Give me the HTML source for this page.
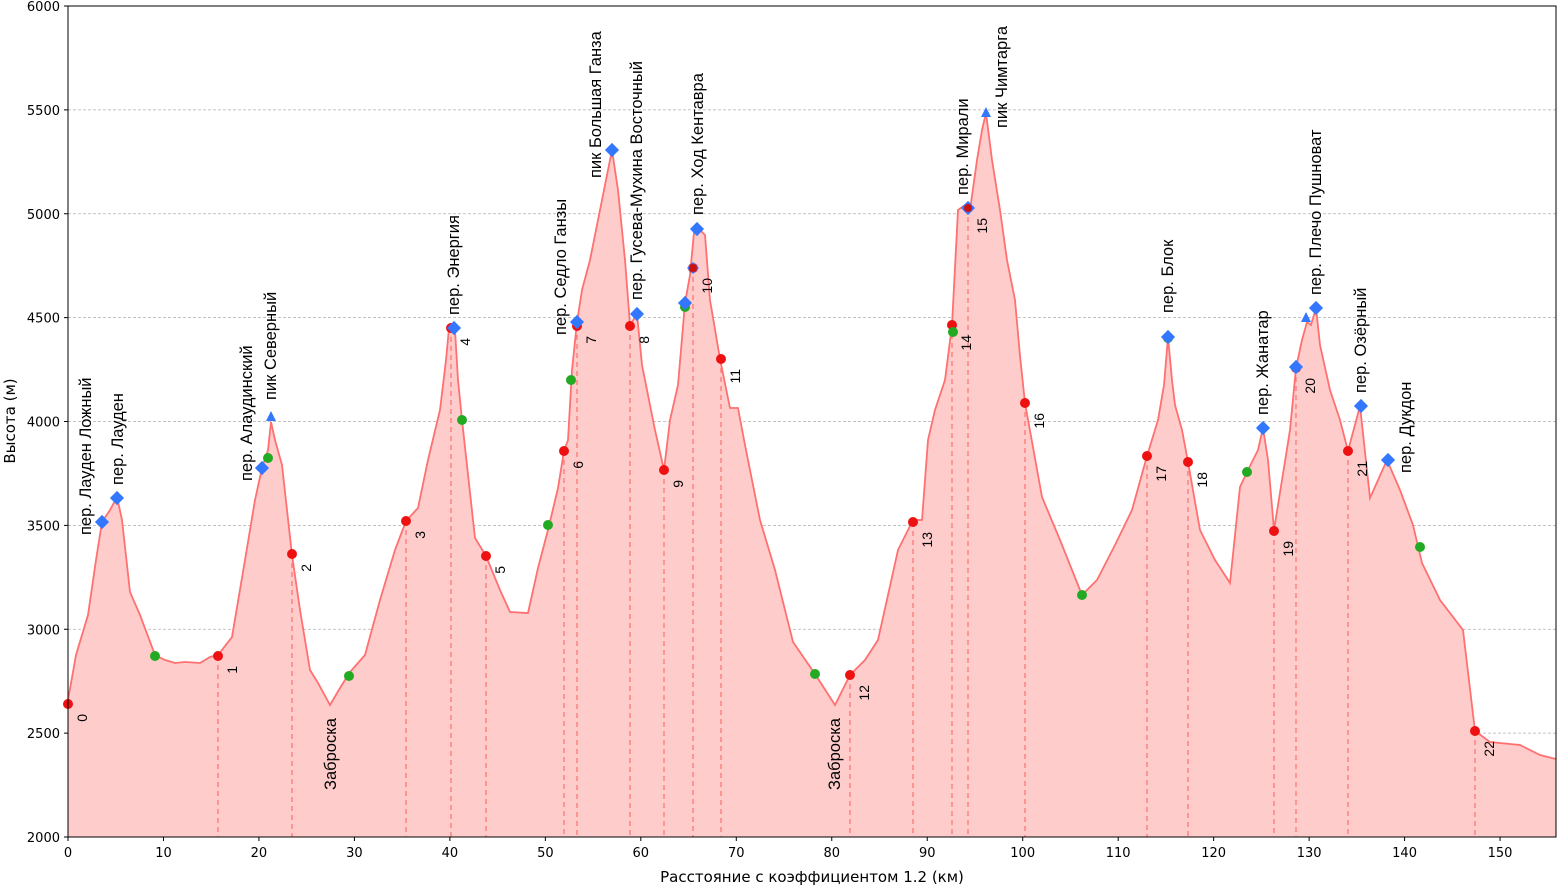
<!DOCTYPE html>
<html><head><meta charset="utf-8"><style>
body{margin:0;background:#fff}
svg{display:block;font-family:"DejaVu Sans","Liberation Sans",sans-serif}
</style></head><body>
<svg id="s" width="1558" height="886" xmlns="http://www.w3.org/2000/svg">
<rect width="1558" height="886" fill="#fff"/>
<g id="grid" stroke="#b0b0b0" stroke-width="0.8" stroke-dasharray="3,2"></g>
<polygon id="fill" fill="#ffcccc"/>
<g id="vl" stroke="#ff7070" stroke-width="1.2" stroke-dasharray="5,4"></g>
<polyline id="line" fill="none" stroke="#ff7070" stroke-width="1.8"/>
<g id="mk"></g>
<g id="tx" font-size="17" fill="#000" font-family="'Liberation Sans',sans-serif"></g>
<rect x="68" y="6" width="1488" height="831" fill="none" stroke="#000" stroke-width="1"/>
<g id="ax" font-size="13" fill="#000"></g>
<text x="812" y="882" font-size="15" text-anchor="middle">Расстояние с коэффициентом 1.2 (км)</text>
<text transform="translate(15,421) rotate(-90)" font-size="15" text-anchor="middle">Высота (м)</text>
</svg>
<script>
const NS="http://www.w3.org/2000/svg";
function el(p,t,a,txt){const e=document.createElementNS(NS,t);for(const k in a)e.setAttribute(k,a[k]);if(txt!=null)e.textContent=txt;document.getElementById(p).appendChild(e);return e;}
const X=km=>68+km*9.547, Y=m=>837-(m-2000)*0.20775;
for(let m=2000;m<=6000;m+=500){const y=Y(m);if(m>2000&&m<6000)el('grid','line',{x1:68,x2:1556,y1:y,y2:y});
el('ax','line',{x1:64,x2:68,y1:y,y2:y,stroke:'#000'});el('ax','text',{x:60,y:y+5,'text-anchor':'end'},m);}
for(let k=0;k<=150;k+=10){const x=X(k);el('ax','line',{x1:x,x2:x,y1:837,y2:841,stroke:'#000'});el('ax','text',{x:x,y:857,'text-anchor':'middle'},k);}
const P=[[68,700],[76,655],[88,615],[96,560],[102,522],[110,510],[117,497],[122,520],[130,592],[140,615],[155,655],[165,660],[175,663],[185,662],[200,663],[210,657],[218,655],[232,637],[245,560],[255,500],[262,468],[268,450],[271,422],[275,440],[282,465],[292,555],[300,610],[310,670],[318,683],[330,705],[340,688],[350,672],[365,655],[380,600],[395,550],[406,521],[418,508],[428,460],[440,410],[446,360],[449,328],[455,330],[458,380],[462,420],[475,538],[486,556],[500,590],[510,612],[528,613],[538,568],[548,530],[558,488],[564,451],[568,440],[572,370],[577,322],[582,290],[590,260],[598,220],[604,190],[612,150],[618,190],[625,260],[630,325],[637,314],[642,365],[655,430],[664,470],[670,420],[678,385],[685,303],[690,275],[694,232],[698,228],[705,235],[710,300],[720,359],[730,408],[738,408],[745,445],[760,520],[775,570],[793,642],[815,674],[835,705],[850,675],[865,660],[878,640],[898,550],[913,520],[922,520],[928,440],[935,410],[945,380],[952,325],[958,210],[965,205],[970,210],[977,160],[982,130],[986,113],[992,160],[1000,210],[1007,260],[1015,300],[1020,356],[1025,403],[1042,497],[1060,540],[1082,595],[1097,580],[1115,545],[1132,510],[1147,456],[1158,420],[1164,385],[1168,337],[1172,380],[1175,405],[1182,430],[1188,462],[1200,530],[1215,560],[1230,583],[1240,487],[1248,470],[1258,450],[1263,428],[1268,460],[1274,530],[1282,480],[1290,430],[1296,368],[1302,340],[1307,322],[1311,325],[1316,308],[1320,345],[1330,390],[1340,420],[1348,451],[1360,406],[1370,498],[1387,460],[1400,490],[1413,525],[1422,563],[1440,600],[1463,630],[1475,731],[1490,742],[1520,745],[1540,755],[1556,759]];
const ps=P.map(p=>p.join(',')).join(' ');
document.getElementById('line').setAttribute('points',ps);
document.getElementById('fill').setAttribute('points',ps+' 1556,837 68,837');
const R=[[68,704],[218,656],[292,554],[406,521],[451,328],[486,556],[564,451],[577,326],[630,326],[664,470],[693,268],[721,359],[850,675],[913,522],[952,325],[968,208],[1025,403],[1147,456],[1188,462],[1274,531],[1296,368],[1348,451],[1475,731]];
const G=[[155,656],[268,458],[349,676],[462,420],[548,525],[571,380],[685,307],[815,674],[953,332],[1082,595],[1168,338],[1247,472],[1420,547]];
const B=[[102,522],[117,498],[262,468],[454,328],[577,322],[612,150],[637,314],[685,303],[697,229],[968,208],[1168,337],[1263,428],[1296,367],[1316,308],[1361,406],[1388,460]];
R.forEach((p,i)=>{if(i>0)el('vl','line',{x1:p[0],x2:p[0],y1:p[1],y2:837});});
R.forEach((p,i)=>{el('mk','circle',{cx:p[0],cy:p[1],r:5,fill:'#ee1111'});
el('tx','text',{transform:`translate(${p[0]+19},${p[1]+10}) rotate(-90)`,'text-anchor':'end','font-size':14},i);});
G.forEach(p=>el('mk','circle',{cx:p[0],cy:p[1],r:5,fill:'#22aa22'}));
B.forEach(p=>el('mk','rect',{x:p[0]-5,y:p[1]-5,width:10,height:10,fill:'#3377ff',transform:`rotate(45 ${p[0]} ${p[1]})`}));
el('mk','polygon',{points:'693,262 699,268 693,274 687,268',fill:'#3377ff'});el('mk','circle',{cx:693,cy:268,r:4,fill:'#cc1111'});
el('mk','circle',{cx:968,cy:208,r:4,fill:'#cc1111'});
[[271,417],[986,113],[1306,318]].forEach(p=>el('mk','polygon',{points:`${p[0]},${p[1]-6} ${p[0]+5},${p[1]+4} ${p[0]-5},${p[1]+4}`,fill:'#3377ff'}));
const T=[[85,535,'пер. Лауден Ложный'],[117,485,'пер. Лауден'],[246,481,'пер. Алаудинский'],[270,400,'пик Северный'],[330,790,'Заброска'],[453,315,'пер. Энергия'],[560,335,'пер. Седло Ганзы'],[595,178,'пик Большая Ганза'],[636,300,'пер. Гусева-Мухина Восточный'],[697,215,'пер. Ход Кентавра'],[834,790,'Заброска'],[962,195,'пер. Мирали'],[1001,128,'пик Чимтарга'],[1167,313,'пер. Блок'],[1262,415,'пер. Жанатар'],[1315,295,'пер. Плечо Пушноват'],[1360,393,'пер. Озёрный'],[1405,473,'пер. Дукдон']];
T.forEach(t=>el('tx','text',{transform:`translate(${t[0]+6},${t[1]}) rotate(-90)`,'font-size':16.5},t[2]));
</script>
</body></html>
